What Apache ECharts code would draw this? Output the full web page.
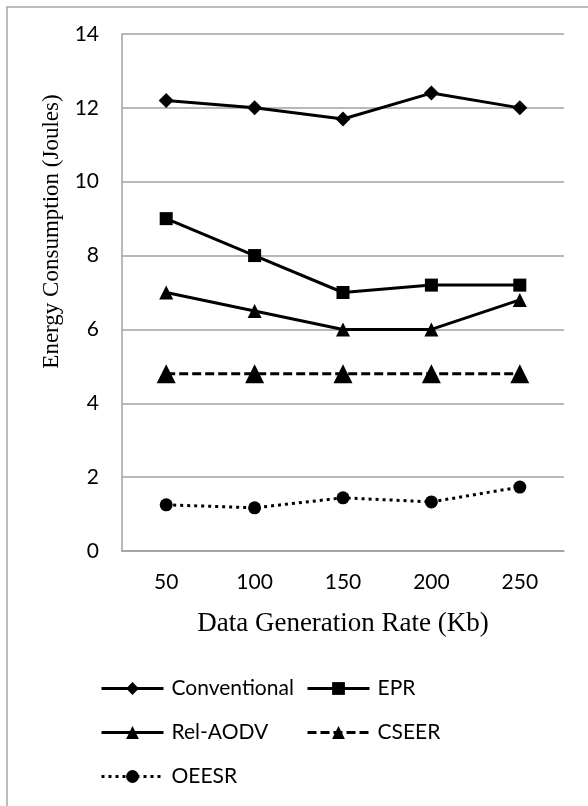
<!DOCTYPE html>
<html>
<head>
<meta charset="utf-8">
<script src="https://cdn.jsdelivr.net/npm/echarts@6/dist/echarts.min.js"></script>
<style>
  html, body { margin: 0; padding: 0; background: #fff; }
  #chart { width: 588px; height: 806px; }
</style>
</head>
<body>
<div id="chart"></div>
<script>
// data
const rates = ['50', '100', '150', '200', '250']
const conventional = [12.2, 12.0, 11.7, 12.4, 12.0]
const epr = [9.0, 8.0, 7.0, 7.2, 7.2]
const relAodv = [7.0, 6.5, 6.0, 6.0, 6.8]
const cseer = [4.8, 4.8, 4.8, 4.8, 4.8]
const oeesr = [1.25, 1.17, 1.44, 1.33, 1.73]

const seriesNames = ['Conventional', 'EPR', 'Rel-AODV', 'CSEER', 'OEESR']

const chart = echarts.init(document.getElementById('chart'))

function line(name, data, symbol, size, type) {
  return {
    name: name,
    type: 'line',
    data: data,
    symbol: symbol,
    symbolSize: size,
    showAllSymbol: true,
    animation: false,
    itemStyle: { color: '#000' },
    lineStyle: { color: '#000', width: 3, type: type || 'solid' }
  }
}

// one legend per item so the two columns line up like the original
const legendPos = [
  [100, 678], [306, 678],
  [100, 722], [306, 722],
  [100, 766]
]
const legends = seriesNames.map((n, i) => ({
  data: [n],
  left: legendPos[i][0],
  top: legendPos[i][1],
  padding: 0,
  itemWidth: 62,
  itemHeight: 16,
  selectedMode: false,
  lineStyle: { width: 3 },
  textStyle: { fontFamily: 'Lato', fontSize: 21, color: '#000', padding: [0, 0, 0, 3] }
}))

const option = {
  backgroundColor: '#fff',
  animation: false,
  grid: { left: 122, right: 24, top: 34, bottom: 255 },
  legend: legends,
  graphic: [{
    type: 'rect',
    shape: { x: 7, y: 7, width: 620, height: 840 },
    style: { fill: 'none', stroke: '#a6a6a6', lineWidth: 1.5 },
    silent: true
  }],
  xAxis: {
    type: 'category',
    data: rates,
    boundaryGap: true,
    name: 'Data Generation Rate (Kb)',
    nameLocation: 'middle',
    nameGap: 59,
    nameTextStyle: { fontFamily: 'Liberation Serif', fontSize: 27, color: '#000' },
    axisLine: { lineStyle: { color: '#a0a0a0', width: 1.5 } },
    axisTick: { show: false },
    axisLabel: { fontFamily: 'Lato', fontSize: 21, color: '#000', margin: 21 }
  },
  yAxis: {
    type: 'value',
    min: 0,
    max: 14,
    interval: 2,
    name: 'Energy Consumption (Joules)',
    nameLocation: 'middle',
    nameGap: 46,
    nameTextStyle: {
      fontFamily: 'Liberation Serif', fontSize: 23, color: '#000',
      padding: [0, 0, 0, 122]
    },
    axisLine: { show: true, lineStyle: { color: '#a0a0a0', width: 1.5 } },
    axisTick: { show: false },
    axisLabel: { fontFamily: 'Lato', fontSize: 21, color: '#000', margin: 23 },
    splitLine: { lineStyle: { color: '#a0a0a0', width: 1.5 } }
  },
  series: [
    line('Conventional', conventional, 'diamond', 15),
    line('EPR', epr, 'rect', 13),
    line('Rel-AODV', relAodv, 'triangle', 14),
    line('CSEER', cseer, 'triangle', 19, [9, 4]),
    line('OEESR', oeesr, 'circle', 13, [3, 4])
  ]
}

chart.setOption(option)
</script>
</body>
</html>
